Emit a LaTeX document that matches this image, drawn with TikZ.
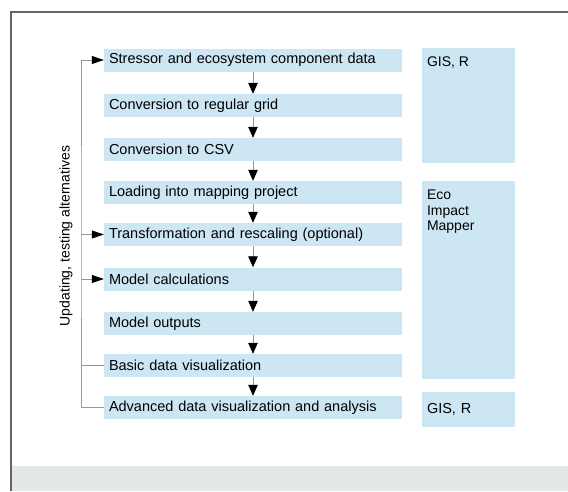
\documentclass[tikz,border=0pt]{standalone}
\usepackage{fontspec}
\setmainfont{Liberation Sans}
\usepackage{tikz}
\usetikzlibrary{arrows.meta}
\usetikzlibrary{shapes}

\definecolor{boxblue}{RGB}{205,230,244}
\definecolor{bandgray}{RGB}{228,232,233}
\definecolor{framegray}{RGB}{100,100,100}
\definecolor{linegray}{RGB}{150,150,150}

\tikzset{
  stepbox/.style={rectangle, fill=boxblue, minimum width=298pt, minimum height=23pt,
    text width=288pt, inner xsep=5pt, inner ysep=0pt, align=left,
    font=\fontsize{14.5}{17}\selectfont},
  toolbox/.style={rectangle, fill=boxblue, minimum width=93pt, inner sep=0pt},
  toollabel/.style={anchor=north west, inner xsep=5pt, inner ysep=7pt, yshift=-2pt, align=left,
    font=\fontsize{14}{15.5}\selectfont},
  flow/.style={draw=linegray, line width=0.8pt, -{Triangle[length=11pt, width=9.5pt, color=black]}},
  feed/.style={draw=linegray, line width=0.8pt},
  feedarrow/.style={feed, -{Triangle[length=12pt, width=8pt, color=black]}}
}

\begin{document}
\begin{tikzpicture}[x=1pt, y=-1pt]

\useasboundingbox (0,0) rectangle (568,491);
\fill[bandgray] (11,466) rectangle (568,491);
\draw[framegray, line width=1.2pt] (11,491) -- (11,12) -- (568,12);

\node[stepbox] (s1) at (253,60) {Stressor and ecosystem component data};
\node[stepbox] (s2) at (253,105.5) {Conversion to regular grid};
\node[stepbox] (s3) at (253,149.5) {Conversion to CSV};
\node[stepbox] (s4) at (253,192.5) {Loading into mapping project};
\node[stepbox] (s5) at (253,234.5) {Transformation and rescaling (optional)};
\node[stepbox] (s6) at (253,279) {Model calculations};
\node[stepbox] (s7) at (253,323.5) {Model outputs};
\node[stepbox] (s8) at (253,365.5) {Basic data visualization};
\node[stepbox] (s9) at (253,407.5) {Advanced data visualization and analysis};

\node[toolbox, minimum height=115pt, label={[toollabel]north west:GIS, R}] (gisA) at (468.5,105.5) {};
\node[toolbox, minimum height=198pt,
  label={[toollabel]north west:Eco\\Impact\\Mapper}] (eim) at (468.5,280) {};
\node[toolbox, minimum height=35pt, font=\fontsize{14.5}{17}\selectfont,
  text width=83pt, align=left] (gisB) at (468.5,409.5) {GIS, R};

\foreach \a/\b in {s1/s2, s2/s3, s3/s4, s4/s5, s5/s6, s6/s7, s7/s8, s8/s9}
  \draw[flow] (\a.south) -- (\b.north);

\coordinate (fb) at (81,230);
\draw[feedarrow] (s9.west) -| (fb) |- (s1.west);
\draw[feedarrow] (fb |- s5.west) -- (s5.west);
\draw[feedarrow] (fb |- s6.west) -- (s6.west);
\draw[feed] (fb |- s8.west) -- (s8.west);

\node[rotate=90, font=\fontsize{14}{16}\selectfont] (upd) at (66,236) {Updating, testing alternatives};

\end{tikzpicture}
\end{document}
